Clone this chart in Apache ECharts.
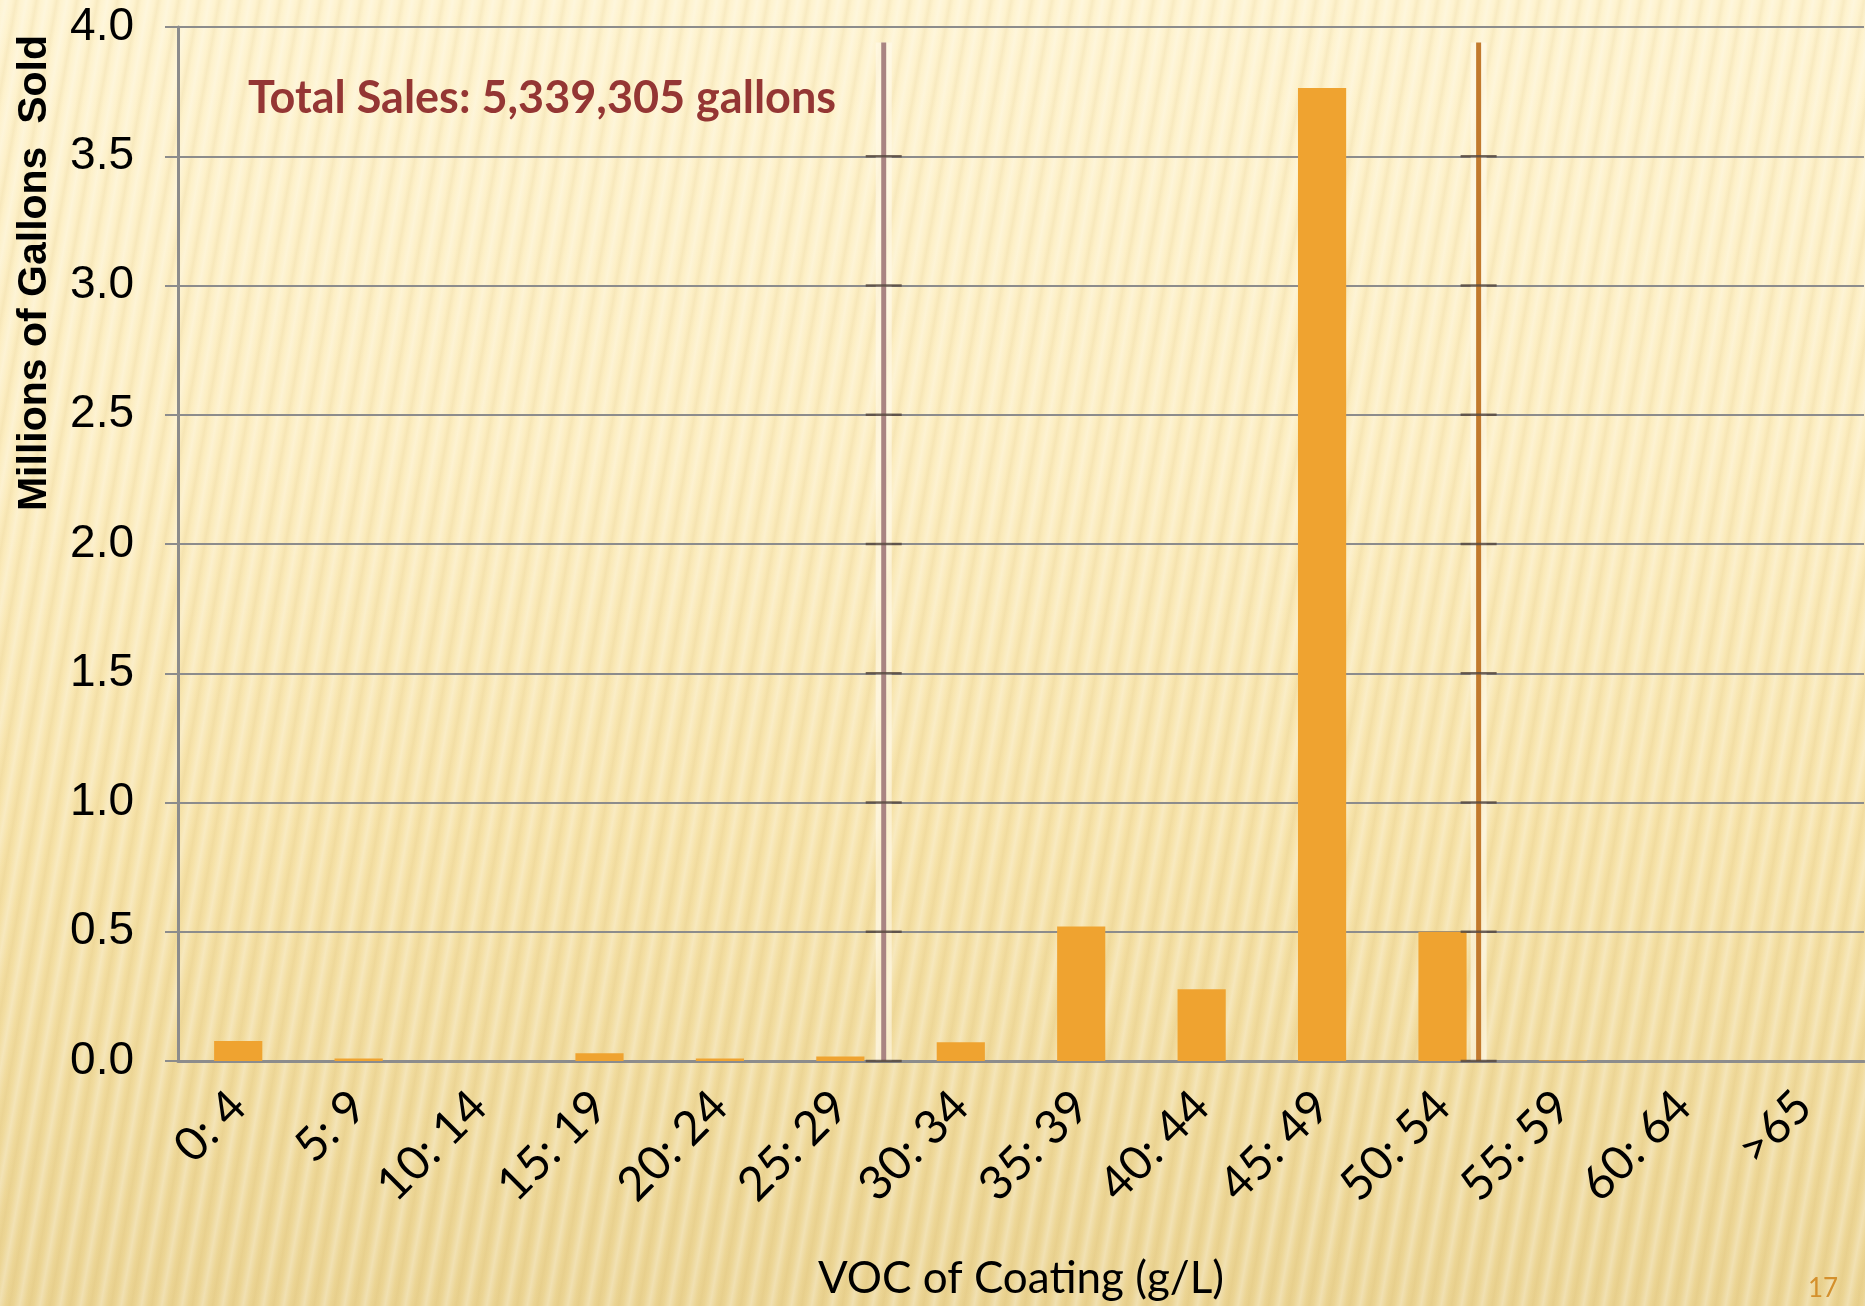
<!DOCTYPE html>
<html>
<head>
<meta charset="utf-8">
<script src="https://cdn.jsdelivr.net/npm/echarts@6/dist/echarts.min.js"></script>
<style>
  html, body { margin: 0; padding: 0; }
  body {
    width: 1865px;
    height: 1306px;
    overflow: hidden;
    background:
      repeating-linear-gradient(100deg, rgba(255,255,255,0) 0px, rgba(255,255,255,0.28) 6px, rgba(255,255,255,0) 12px, rgba(190,150,60,0.09) 16px, rgba(255,255,255,0) 20px),
      linear-gradient(to bottom, #fef3cf 0%, #fcedc0 35%, #f6e2a8 65%, #ebd493 100%);
  }
  #chart { width: 1865px; height: 1306px; }
</style>
</head>
<body>
<div id="chart"></div>
<script>
// VOC ranges (g/L)
const categories = ["0: 4", "5: 9", "10: 14", "15: 19", "20: 24", "25: 29", "30: 34",
  "35: 39", "40: 44", "45: 49", "50: 54", "55: 59", "60: 64", ">65"];

// millions of gallons sold
const gallons = [0.077, 0.01, 0, 0.03, 0.01, 0.017, 0.073, 0.52, 0.278, 3.764, 0.50, 0.003, 0, 0];

// the two limit lines, in category units (0 = left edge of the first band)
const limitPositions = [5.86, 10.8];
const limitColors = ["#a98482", "#c27a2e"];
const limitTop = 3.94;

// y axis ticks
const yTicks = [0, 0.5, 1.0, 1.5, 2.0, 2.5, 3.0, 3.5, 4.0];

const chart = echarts.init(document.getElementById("chart"));

// vertical limit lines plus the little cross marks at each gridline
const limitSeries = [];
limitPositions.forEach((pos, i) => {
  // soft halo under the line
  limitSeries.push({
    type: "line",
    xAxisIndex: 1,
    silent: true,
    symbol: "none",
    lineStyle: { color: "rgba(255,250,235,0.6)", width: 16 },
    data: [[pos, 0], [pos, limitTop]],
    z: 3,
  });
  limitSeries.push({
    type: "line",
    xAxisIndex: 1,
    silent: true,
    symbol: "none",
    lineStyle: { color: limitColors[i], width: 5 },
    data: [[pos, 0], [pos, limitTop]],
    z: 4,
  });
  limitSeries.push({
    type: "scatter",
    xAxisIndex: 1,
    silent: true,
    symbol: "rect",
    symbolSize: [36, 2.5],
    itemStyle: { color: "#54463c" },
    data: yTicks.filter((v) => v < limitTop).map((v) => [pos, v]),
    z: 5,
  });
});

const option = {
  animation: false,
  grid: { left: 178, right: 1, top: 27, bottom: 244 },
  title: {
    text: "Total Sales: 5,339,305 gallons",
    left: 243,
    top: 71,
    textStyle: { fontFamily: "Lato", fontWeight: "bold", fontSize: 45, color: "#943634" },
  },
  xAxis: [
    {
      type: "category",
      data: categories,
      name: "VOC of Coating (g/L)",
      nameLocation: "middle",
      nameGap: 196,
      nameTextStyle: { fontFamily: "Lato", fontSize: 44, color: "#000" },
      axisLine: { lineStyle: { color: "#8c8c8c", width: 3 } },
      axisTick: { length: 15, lineStyle: { color: "#8c8c8c", width: 2 } },
      axisLabel: {
        rotate: 45,
        margin: 38,
        interval: 0,
        fontFamily: "Lato",
        fontSize: 47,
        color: "#000",
      },
    },
    {
      type: "value",
      min: 0,
      max: categories.length,
      show: false,
    },
  ],
  yAxis: {
    type: "value",
    min: 0,
    max: 4,
    interval: 0.5,
    axisLine: { show: true, lineStyle: { color: "#8c8c8c", width: 3 } },
    axisTick: { show: true, length: 13, lineStyle: { color: "#8c8c8c", width: 2 } },
    splitLine: { lineStyle: { color: "#8c8c8c", width: 2 } },
    axisLabel: {
      margin: 44,
      fontFamily: "Liberation Sans",
      fontSize: 46,
      color: "#000",
      formatter: (v) => v.toFixed(1),
    },
  },
  graphic: [
    {
      type: "text",
      x: 35,
      y: 273,
      rotation: Math.PI / 2,
      style: {
        text: "Millions of Gallons  Sold",
        fontFamily: "Liberation Sans",
        fontWeight: "bold",
        fontSize: 41,
        fill: "#000",
        align: "center",
        verticalAlign: "middle",
      },
    },
    {
      type: "text",
      x: 1808,
      y: 1276,
      style: {
        text: "17",
        fontFamily: "Lato",
        fontSize: 26,
        fill: "#d4902c",
      },
    },
  ],
  series: [
    {
      type: "bar",
      data: gallons,
      barWidth: "40%",
      itemStyle: { color: "#efa330" },
      z: 2,
    },
    ...limitSeries,
  ],
};

chart.setOption(option);
</script>
</body>
</html>
